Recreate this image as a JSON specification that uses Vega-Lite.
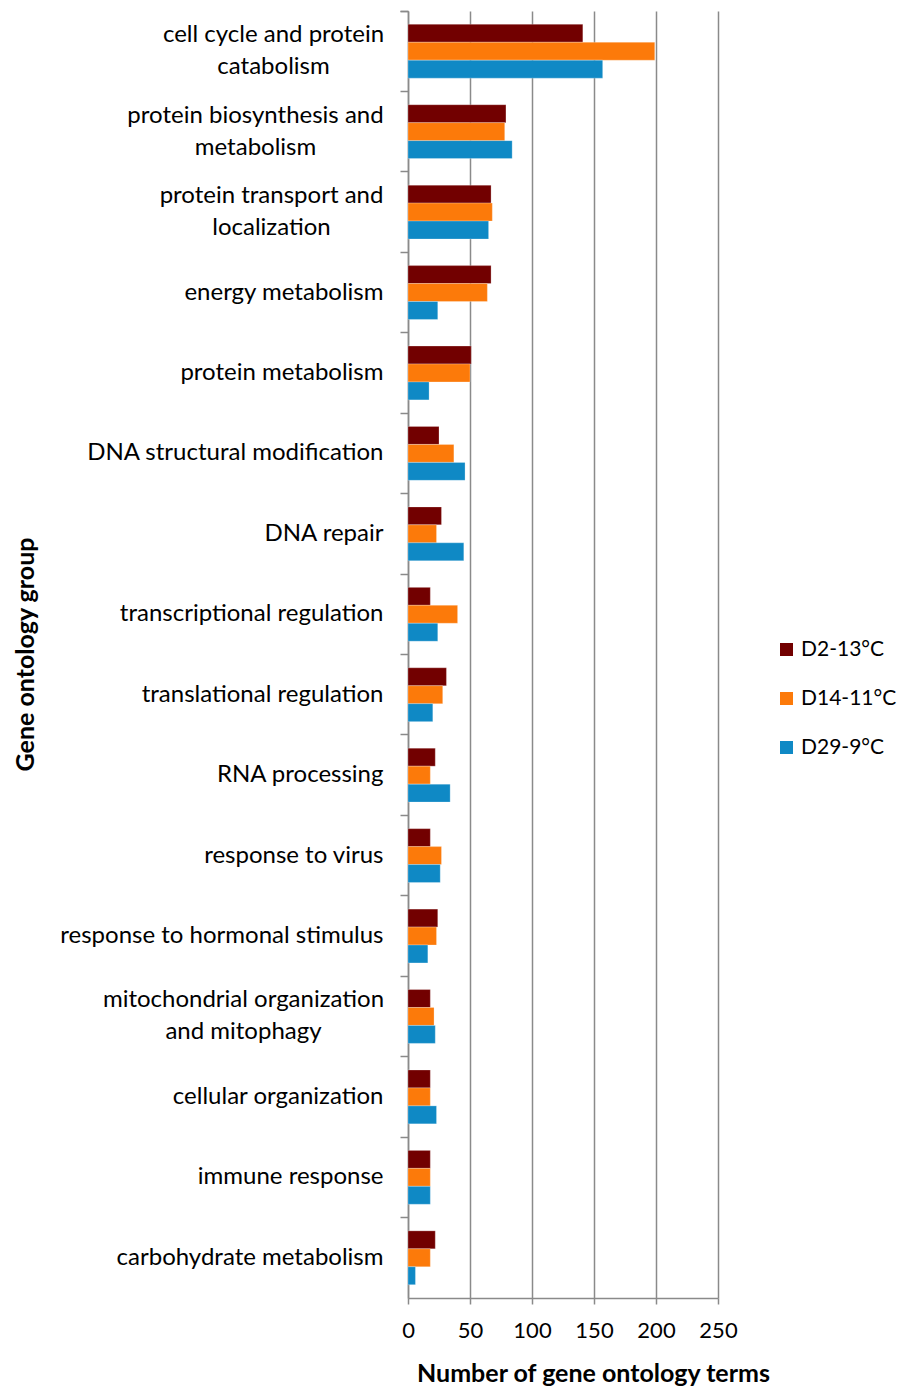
{
  "$schema": "https://vega.github.io/schema/vega-lite/v6.json",
  "width": 310,
  "height": 1287,
  "autosize": {"type": "none"},
  "padding": {"left": 408, "top": 11, "right": 189, "bottom": 90},
  "background": "white",
  "config": {
    "view": {"stroke": null},
    "font": "Lato",
    "axis": {"labelFont": "Lato", "titleFont": "Lato", "labelColor": "#000", "titleColor": "#000"}
  },
  "data": {
    "values": [
      {"group": "cell cycle and protein catabolism", "series": "D2-13°C", "terms": 141},
      {"group": "cell cycle and protein catabolism", "series": "D14-11°C", "terms": 199},
      {"group": "cell cycle and protein catabolism", "series": "D29-9°C", "terms": 157},
      {"group": "protein biosynthesis and metabolism", "series": "D2-13°C", "terms": 79},
      {"group": "protein biosynthesis and metabolism", "series": "D14-11°C", "terms": 78},
      {"group": "protein biosynthesis and metabolism", "series": "D29-9°C", "terms": 84},
      {"group": "protein transport and localization", "series": "D2-13°C", "terms": 67},
      {"group": "protein transport and localization", "series": "D14-11°C", "terms": 68},
      {"group": "protein transport and localization", "series": "D29-9°C", "terms": 65},
      {"group": "energy metabolism", "series": "D2-13°C", "terms": 67},
      {"group": "energy metabolism", "series": "D14-11°C", "terms": 64},
      {"group": "energy metabolism", "series": "D29-9°C", "terms": 24},
      {"group": "protein metabolism", "series": "D2-13°C", "terms": 51},
      {"group": "protein metabolism", "series": "D14-11°C", "terms": 50},
      {"group": "protein metabolism", "series": "D29-9°C", "terms": 17},
      {"group": "DNA structural modification", "series": "D2-13°C", "terms": 25},
      {"group": "DNA structural modification", "series": "D14-11°C", "terms": 37},
      {"group": "DNA structural modification", "series": "D29-9°C", "terms": 46},
      {"group": "DNA repair", "series": "D2-13°C", "terms": 27},
      {"group": "DNA repair", "series": "D14-11°C", "terms": 23},
      {"group": "DNA repair", "series": "D29-9°C", "terms": 45},
      {"group": "transcriptional regulation", "series": "D2-13°C", "terms": 18},
      {"group": "transcriptional regulation", "series": "D14-11°C", "terms": 40},
      {"group": "transcriptional regulation", "series": "D29-9°C", "terms": 24},
      {"group": "translational regulation", "series": "D2-13°C", "terms": 31},
      {"group": "translational regulation", "series": "D14-11°C", "terms": 28},
      {"group": "translational regulation", "series": "D29-9°C", "terms": 20},
      {"group": "RNA processing", "series": "D2-13°C", "terms": 22},
      {"group": "RNA processing", "series": "D14-11°C", "terms": 18},
      {"group": "RNA processing", "series": "D29-9°C", "terms": 34},
      {"group": "response to virus", "series": "D2-13°C", "terms": 18},
      {"group": "response to virus", "series": "D14-11°C", "terms": 27},
      {"group": "response to virus", "series": "D29-9°C", "terms": 26},
      {"group": "response to hormonal stimulus", "series": "D2-13°C", "terms": 24},
      {"group": "response to hormonal stimulus", "series": "D14-11°C", "terms": 23},
      {"group": "response to hormonal stimulus", "series": "D29-9°C", "terms": 16},
      {"group": "mitochondrial organization and mitophagy", "series": "D2-13°C", "terms": 18},
      {"group": "mitochondrial organization and mitophagy", "series": "D14-11°C", "terms": 21},
      {"group": "mitochondrial organization and mitophagy", "series": "D29-9°C", "terms": 22},
      {"group": "cellular organization", "series": "D2-13°C", "terms": 18},
      {"group": "cellular organization", "series": "D14-11°C", "terms": 18},
      {"group": "cellular organization", "series": "D29-9°C", "terms": 23},
      {"group": "immune response", "series": "D2-13°C", "terms": 18},
      {"group": "immune response", "series": "D14-11°C", "terms": 18},
      {"group": "immune response", "series": "D29-9°C", "terms": 18},
      {"group": "carbohydrate metabolism", "series": "D2-13°C", "terms": 22},
      {"group": "carbohydrate metabolism", "series": "D14-11°C", "terms": 18},
      {"group": "carbohydrate metabolism", "series": "D29-9°C", "terms": 6}
    ]
  },
  "mark": {"type": "bar", "stroke": "white", "strokeOpacity": 0.5, "strokeWidth": 0.5},
  "encoding": {
    "y": {
      "field": "group",
      "type": "nominal",
      "sort": null,
      "scale": {"paddingInner": 0, "paddingOuter": 0},
      "axis": {
        "title": "Gene ontology group",
        "titleFontSize": 25,
        "titleFontWeight": "bold",
        "titleX": -383,
        "titleY": 643,
        "titleAngle": -90,
        "titleBaseline": "middle",
        "titleAlign": "center",
        "labelFontSize": 24,
        "labelLineHeight": 32,
        "labelLimit": 400,
        "bandPosition": 0,
        "tickExtra": true,
        "tickSize": 8,
        "tickColor": "#8a8a8a",
        "tickWidth": 1.5,
        "domainColor": "#8a8a8a",
        "domainWidth": 1.5,
        "labelPadding": {"condition": [
          {"test": "datum.value == 'cell cycle and protein catabolism'", "value": 127},
          {"test": "datum.value == 'protein biosynthesis and metabolism'", "value": 145},
          {"test": "datum.value == 'protein transport and localization'", "value": 129},
          {"test": "datum.value == 'mitochondrial organization and mitophagy'", "value": 157}
        ], "value": 17},
        "labelOffset": {"condition": {"test": "indexof(['cell cycle and protein catabolism','protein biosynthesis and metabolism','protein transport and localization','mitochondrial organization and mitophagy'], datum.value) >= 0", "value": -16}, "value": 0},
        "labelAlign": {"condition": {"test": "indexof(['cell cycle and protein catabolism','protein biosynthesis and metabolism','protein transport and localization','mitochondrial organization and mitophagy'], datum.value) >= 0", "value": "center"}, "value": "right"},
        "labelExpr": "datum.label == 'cell cycle and protein catabolism' ? ['cell cycle and protein', 'catabolism'] : datum.label == 'protein biosynthesis and metabolism' ? ['protein biosynthesis and', 'metabolism'] : datum.label == 'protein transport and localization' ? ['protein transport and', 'localization'] : datum.label == 'mitochondrial organization and mitophagy' ? ['mitochondrial organization', 'and mitophagy'] : datum.label"
      }
    },
    "yOffset": {
      "field": "series",
      "type": "nominal",
      "sort": ["D2-13°C", "D14-11°C", "D29-9°C"],
      "scale": {"paddingInner": 0, "paddingOuter": 0.74}
    },
    "x": {
      "field": "terms",
      "type": "quantitative",
      "scale": {"domain": [0, 250], "nice": false},
      "axis": {
        "values": [0, 50, 100, 150, 200, 250],
        "title": "Number of gene ontology terms",
        "titleFontSize": 25,
        "titleFontWeight": "bold",
        "titleX": 185,
        "titleY": 75,
        "titleBaseline": "middle",
        "titleAlign": "center",
        "labelFontSize": 22,
        "labelPadding": 16,
        "labelFlush": false,
        "tickSize": 6,
        "tickColor": "#8a8a8a",
        "tickWidth": 1.5,
        "domainColor": "#8a8a8a",
        "domainWidth": 1.5,
        "grid": true,
        "gridColor": "#8a8a8a",
        "gridWidth": 1.5
      }
    },
    "color": {
      "field": "series",
      "type": "nominal",
      "sort": ["D2-13°C", "D14-11°C", "D29-9°C"],
      "scale": {"domain": ["D2-13°C", "D14-11°C", "D29-9°C"], "range": ["#720000", "#FC7A0A", "#0F89C5"]},
      "legend": {
        "title": null,
        "orient": "none",
        "legendX": 368,
        "legendY": 628,
        "symbolType": "square",
        "symbolSize": 169,
        "symbolStrokeWidth": 0,
        "labelFontSize": 21,
        "labelFont": "Lato",
        "labelColor": "#000",
        "labelLimit": 200,
        "rowPadding": 27,
        "labelOffset": 4
      }
    }
  }
}
